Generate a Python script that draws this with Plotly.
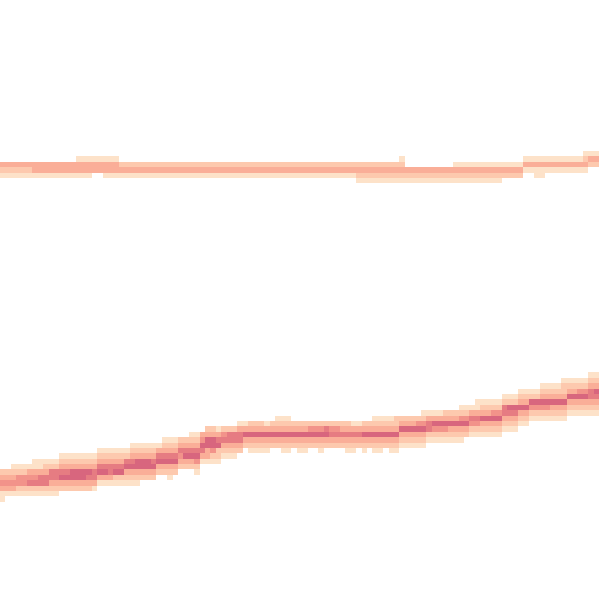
import plotly.graph_objects as go

N_COLS = 111
N_ROWS = 111

# Lower band: per column, the center (darkest) row and the levels for rows center-4 .. center+4
band_a_center = (
    [89] * 3 + [88] * 6 + [87] * 9 + [86] * 5 + [85] * 6 + [84] * 4 + [83] * 4 +
    [82] * 4 + [81] * 4 + [80] * 29 + [79] * 5 + [78] * 8 + [77] * 6 + [76] * 3 +
    [75] * 2 + [74] * 7 + [73] * 4 + [72] * 2
)
band_a_levels = [
    "002343110", "002343100", "012343100",
    "001244210", "001244210", "001345210", "011345210", "011355210", "012355210",
    "001255321", "001255321", "012356320", "012356320", "012366320", "012366320",
    "012366320", "012365320", "012355310",
    "012356310", "012356310", "012355310", "012356210", "012356210",
    "001256321", "012356321", "012366321", "012366320", "012366320", "012356320",
    "001356320", "012356320", "012356321", "012356320",
    "002354320", "002356320", "012356320", "012356421",
    "003465310", "023663310", "023664210", "013562210",
    "002453210", "002553210", "002553210", "013553200",
    "001363200", "002363210", "002363210", "002363210", "001363210", "002363200",
    "012363200", "012363210", "012363210", "002363200", "002363210", "002363210",
    "002463200", "002463200", "002463210", "002563200", "002453200", "002453200",
    "002353200", "002353210", "001353210", "001353200", "002363210", "002363200",
    "012363210", "012363210", "012363200", "012363210", "022363210",
    "002363210", "002363210", "002363210", "002463210", "012463210",
    "001355210", "001364210", "001364210", "002364210", "002363210", "002363210",
    "012463210", "012463200",
    "001354210", "011354210", "012363210", "012363210", "012463210", "012463210",
    "012553210", "012653210", "012653210",
    "012363210", "012363210",
    "001264210", "001264210", "012364210", "012364210", "012363210", "012363210",
    "122363210",
    "012363210", "012363210", "012463210", "012463210",
    "012355321", "012365321",
]

# Upper band: per column, levels for rows 28 .. 33
band_b_top = 28
band_b_levels = (
    ["003210"] * 6 + ["003310"] * 8 + ["013310"] * 3 + ["013300"] * 2 + ["013310"] * 3 +
    ["002310"] * 2 + ["002310"] * 13 + ["002310"] * 9 + ["002310"] * 9 +
    ["002310"] * 11 + ["002321"] * 8 + ["012321"] +
    ["000321"] * 9 + ["001321"] * 7 + ["001321"] * 2 + ["001320"] * 4 +
    ["013100"] * 2 + ["013110"] * 2 + ["013100"] * 7 +
    ["123100", "132000", "132000"]
)

z = [[None] * N_COLS for _ in range(N_ROWS)]
for c in range(N_COLS):
    top = band_a_center[c] - 4
    for i, ch in enumerate(band_a_levels[c]):
        v = int(ch)
        if v > 0:
            z[top + i][c] = v
    for i, ch in enumerate(band_b_levels[c]):
        v = int(ch)
        if v > 0:
            z[band_b_top + i][c] = v

colorscale = [
    [0.0, "#fde2c9"],
    [0.2, "#fdc9ae"],
    [0.4, "#faae98"],
    [0.6, "#f2938a"],
    [0.8, "#e67c82"],
    [1.0, "#d8667e"],
]

fig = go.Figure(
    go.Heatmap(
        z=z,
        x=list(range(N_COLS)),
        y=list(range(N_ROWS)),
        colorscale=colorscale,
        zmin=1,
        zmax=6,
        showscale=False,
        hoverongaps=False,
    )
)
fig.update_layout(
    width=600,
    height=600,
    margin=dict(l=0, r=0, t=0, b=0),
    paper_bgcolor="white",
    plot_bgcolor="white",
    xaxis=dict(visible=False, range=[-0.5, -0.5 + 600 / 5.4]),
    yaxis=dict(visible=False, range=[-0.5 + 600 / 5.4, -0.5]),
)
fig.write_html(
    "out.html",
    config={"displayModeBar": False},
    post_script="document.body.style.margin='0';",
)
